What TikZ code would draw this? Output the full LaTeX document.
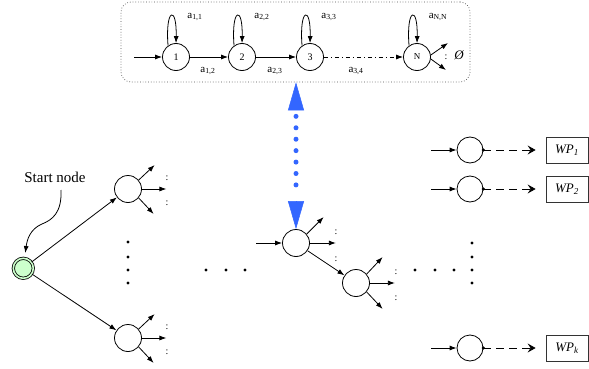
\documentclass[tikz,border=0pt]{standalone}
\usepackage{fontspec}
\setmainfont{Liberation Serif}
\usetikzlibrary{arrows.meta,calc}
\definecolor{blueA}{RGB}{51,102,255}
\definecolor{startgreen}{RGB}{204,255,204}
\begin{document}
\begin{tikzpicture}[x=1pt,y=-1pt,
  st/.style={circle,draw,line width=0.8pt,minimum size=27pt,inner sep=0pt,font=\fontsize{10}{10}\selectfont},
  wst/.style={circle,draw,line width=0.8pt,minimum size=26pt,inner sep=0pt},
  arr/.style={line width=0.8pt,-{Latex[length=7pt,width=5pt]}},
  lab/.style={font=\fontsize{11}{11}\selectfont,inner sep=0pt},
  col/.style={font=\fontsize{10}{10}\selectfont,inner sep=0pt},
  wpbox/.style={draw=black!80,line width=0.8pt,minimum width=42pt,minimum height=26pt,inner sep=0pt,font=\fontsize{13}{13}\selectfont\itshape},
  dasharr/.style={line width=0.8pt,dash pattern=on 8pt off 5pt,-{Stealth[length=8pt,width=9pt,inset=3pt]},shorten >=10pt},
  bluedots/.style={blueA,line width=5pt,line cap=round,dash pattern=on 0pt off 11.43pt},
  bluetip/.style={blueA,line width=0.5pt,-{Triangle[length=28pt,width=16pt]}}
]
\useasboundingbox (0,0) rectangle (589,369);

% ---- top HMM box ----
\node[draw=black!70,dotted,line width=0.7pt,rounded corners=10pt,minimum width=349pt,minimum height=80pt,inner sep=0pt] (topbox) at (295.5,42) {};
\node[st] (t1) at (176,57) {1};
\node[st] (t2) at (242,57) {2};
\node[st] (t3) at (310,57) {3};
\node[st,font=\fontsize{9}{9}\selectfont] (tN) at (417,57) {N};
\coordinate (tin) at (134,57);
\draw[arr] (tin) -- (t1);
\draw[arr] (t1) -- (t2);
\draw[arr] (t2) -- (t3);
\draw[arr,dash pattern=on 4pt off 3pt on 1pt off 3pt] (t3) -- (tN);
\foreach \n in {t1,t2,t3,tN}
  \draw[arr] (\n.125) .. controls +(-3,-38) and +(1,-38) .. (\n.90);
\node[lab] at (195,17) {a\textsubscript{1,1}};
\node[lab] at (262,17) {a\textsubscript{2,2}};
\node[lab] at (329,17) {a\textsubscript{3,3}};
\node[lab] at (438,17) {a\textsubscript{N,N}};
\node[lab] at (208,71) {a\textsubscript{1,2}};
\node[lab] at (275,71) {a\textsubscript{2,3}};
\node[lab] at (356,71) {a\textsubscript{3,4}};
\coordinate (nu) at (448,43);
\coordinate (nd) at (446,70);
\draw[arr] (tN.8) -- (nu);
\draw[arr] (tN.-8) -- (nd);
\node[col] at (446,57) {:};
\node[font=\fontsize{13}{13}\selectfont\itshape,inner sep=0pt] at (459,55) {Ø};

% ---- start node and first level ----
\node[circle,draw,line width=0.8pt,double=startgreen,double distance=1.6pt,fill=startgreen,minimum size=20pt,inner sep=0pt] (S) at (23.3,268.3) {};
\node[font=\fontsize{15}{15}\selectfont,inner sep=0pt] (SL) at (55,177) {Start node};
\coordinate (SLc) at (61,190);
\draw[arr,shorten >=5pt] (SLc) .. controls (62,213) and (52,220) .. (42,224) .. controls (30,229) and (27,240) .. (S);

\node[st] (C) at (128,189) {};
\node[st] (D) at (128,338) {};
\draw[arr] (S) -- (C);
\draw[arr] (S) -- (D);
\foreach \n in {C,D}{
  \draw[arr] (\n.40) -- ++(16,-15);
  \draw[arr] (\n.east) -- ++(24.5,0);
  \draw[arr] (\n.-40) -- ++(15,16);
  \node[col] at ($(\n)+(39,-11)$) {:};
  \node[col] at ($(\n)+(39,14)$) {:};
}

% ---- middle nodes ----
\node[st] (A) at (296,243) {};
\node[st] (B) at (356,283) {};
\coordinate (Ain) at (256,243);
\draw[arr] (Ain) -- (A);
\draw[arr] (A.40) -- ++(17,-17);
\draw[arr] (A.east) -- ++(26,0);
\draw[arr] (A) -- (B);
\node[col] at (336,232) {:};
\node[col] at (336,259) {:};
\draw[arr] (B.40) -- ++(16,-17);
\draw[arr] (B.east) -- ++(25,0);
\draw[arr] (B.-40) -- ++(16,17);
\node[col] at (396,272) {:};
\node[col] at (396,298) {:};

% ---- dots ----
\foreach \p in {(128,242),(128,257),(128,270),(128,283),(206,270),(226,270),(245,270),(415,270),(435,270),(454,270),(472,243),(472,257),(472,270),(472,283)}
  \fill \p circle (1.6pt);

% ---- blue double arrow ----
\draw[bluedots] ($(topbox.south -| A)+(0,34)$) -- ($(A.north)+(0,-33)$);
\draw[bluetip] ($(topbox.south -| A)+(0,27)$) -- (topbox.south -| A);
\draw[bluetip] ($(A.north)+(0,-27)$) -- (A.north);

% ---- right column ----
\foreach \i/\y/\t in {1/150/{WP\textsubscript{1}},2/189/{WP\textsubscript{2}},k/348/{WP\textsubscript{k}}}{
  \node[wst] (R\i) at (470,\y) {};
  \coordinate (Rin\i) at (431,\y);
  \node[wpbox] (W\i) at (567,\y) {\t};
  \draw[arr] (Rin\i) -- (R\i);
  \fill (R\i.east) circle (1.7pt);
  \draw[dasharr] (R\i.east) -- (W\i);
}
\end{tikzpicture}
\end{document}
